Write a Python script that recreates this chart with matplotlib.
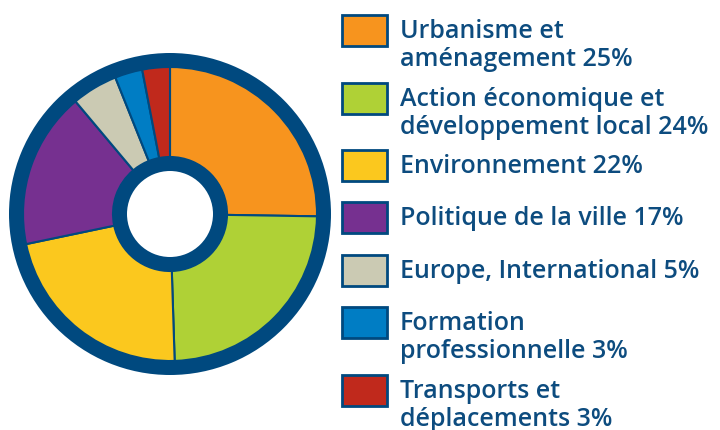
import matplotlib
matplotlib.use("Agg")
import matplotlib.pyplot as plt
from matplotlib.patches import Rectangle, Wedge

labels = ["Urbanisme et\naménagement 25%",
          "Action économique et\ndéveloppement local 24%",
          "Environnement 22%",
          "Politique de la ville 17%",
          "Europe, International 5%",
          "Formation\nprofessionnelle 3%",
          "Transports et\ndéplacements 3%"]
values = [25, 24, 22, 17, 5, 3, 3]
colors = ["#F7941E", "#AFD136", "#FBC81E", "#763090", "#CBCAB3", "#007DC4", "#C0291C"]

DARK = "#00497F"
TEXT = "#0D4C7F"

W, H = 720, 430
fig = plt.figure(figsize=(7.2, 4.3), dpi=100)
ax = fig.add_axes([0, 0, 1, 1])

cx, cy = 170, 430 - 214
r_out, r_col, r_in_out, r_in = 161, 147, 57, 43

ax.pie(values, colors=colors, startangle=90, counterclock=False,
       center=(cx, cy), radius=r_col, frame=True,
       wedgeprops=dict(width=r_col - r_in_out, edgecolor=DARK, linewidth=1.5))
ax.set_xlim(0, W)
ax.set_ylim(0, H)
ax.set_aspect("equal")
ax.axis("off")
ax.add_patch(Wedge((cx, cy), r_out, 0, 360, width=r_out - r_col, facecolor=DARK, edgecolor="none"))
ax.add_patch(Wedge((cx, cy), r_in_out, 0, 360, width=r_in_out - r_in, facecolor=DARK, edgecolor="none"))

centers = [30, 98, 165, 217, 270, 322, 390]
px, pw, ph = 342, 45, 31
for lab, col, c in zip(labels, colors, centers):
    ax.add_patch(Rectangle((px, H - c - ph / 2), pw, ph, facecolor=col, edgecolor=DARK, linewidth=2))
    for i, line in enumerate(lab.split("\n")):
        base = c + 8 + i * 28
        ax.text(400, H - base, line, fontsize=18, family="Open Sans", fontweight="semibold",
                color=TEXT, ha="left", va="baseline")

fig.savefig("out.png", dpi=100)
